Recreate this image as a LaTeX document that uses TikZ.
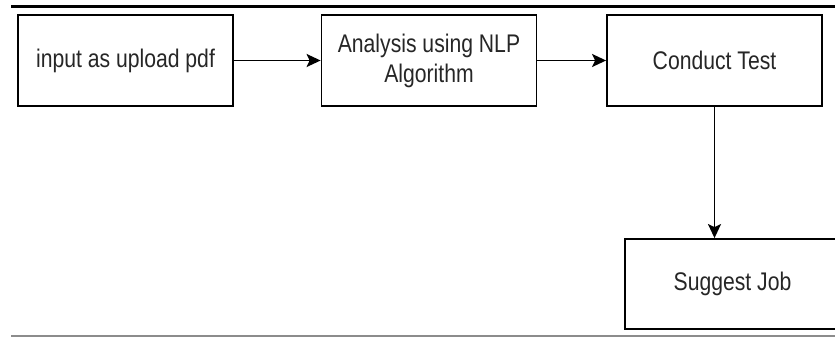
\documentclass[tikz,border=0pt]{standalone}
\usepackage{fontspec}
\setmainfont[FakeStretch=0.83]{Liberation Sans}
\usepackage{tikz}
\usetikzlibrary{arrows.meta}

\begin{document}
\begin{tikzpicture}[x=1pt,y=-1pt]%
  \tikzstyle{boxn}=[rectangle,draw=black,line width=1.8pt,minimum width=215pt,minimum height=91pt,
    align=center,text=black!85,font=\fontsize{25.5}{30}\selectfont]
  \tikzstyle{arrn}=[line width=1.8pt,-{Stealth[length=14pt,width=13pt,inset=3pt]}]
  \clip (0,0) rectangle (835,337);
  \draw[line width=3pt] (11,6.5) -- (835,6.5);
  \draw[black!45,line width=1.5pt] (11,336) -- (835,336);
  \node(upload)[boxn] at (125.5,60.5) {input as upload pdf};
  \node(nlp)[boxn] at (429,60.5) {Analysis using NLP\\Algorithm};
  \node(test)[boxn] at (714.5,60.5) {Conduct Test};
  \node(job)[boxn,minimum height=90pt] at (732.5,284) {Suggest Job};
  \draw[arrn] (upload) -- (nlp);
  \draw[arrn] (nlp) -- (test);
  \draw[arrn] (test) -- (test|-job.north);
\end{tikzpicture}
\end{document}
